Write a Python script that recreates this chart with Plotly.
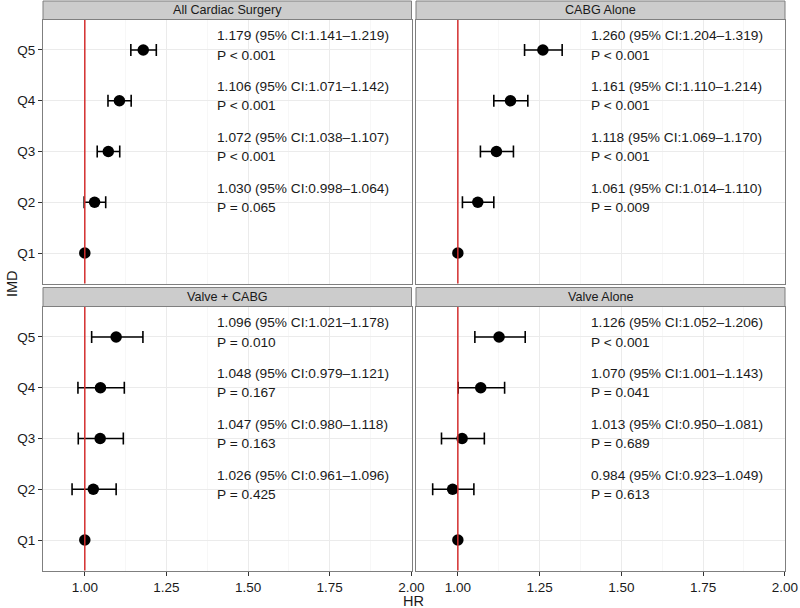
import plotly.graph_objects as go

# ---- data ----
panels = ["All Cardiac Surgery", "CABG Alone", "Valve + CABG", "Valve Alone"]
quintiles = ["Q1", "Q2", "Q3", "Q4", "Q5"]

hr_all = [1.000, 1.030, 1.072, 1.106, 1.179]
lo_all = [1.000, 0.998, 1.038, 1.071, 1.141]
hi_all = [1.000, 1.064, 1.107, 1.142, 1.219]
p_all = ["", "P = 0.065", "P < 0.001", "P < 0.001", "P < 0.001"]

hr_cabg = [1.000, 1.061, 1.118, 1.161, 1.260]
lo_cabg = [1.000, 1.014, 1.069, 1.110, 1.204]
hi_cabg = [1.000, 1.110, 1.170, 1.214, 1.319]
p_cabg = ["", "P = 0.009", "P < 0.001", "P < 0.001", "P < 0.001"]

hr_vc = [1.000, 1.026, 1.047, 1.048, 1.096]
lo_vc = [1.000, 0.961, 0.980, 0.979, 1.021]
hi_vc = [1.000, 1.096, 1.118, 1.121, 1.178]
p_vc = ["", "P = 0.425", "P = 0.163", "P = 0.167", "P = 0.010"]

hr_valve = [1.000, 0.984, 1.013, 1.070, 1.126]
lo_valve = [1.000, 0.923, 0.950, 1.001, 1.052]
hi_valve = [1.000, 1.049, 1.081, 1.143, 1.206]
p_valve = ["", "P = 0.613", "P = 0.689", "P = 0.041", "P < 0.001"]

x_ticks = [1.00, 1.25, 1.50, 1.75, 2.00]
x_ticktext = ["1.00", "1.25", "1.50", "1.75", "2.00"]
ref_hr = 1.0
label_x = 1.4

data = [
    (hr_all, lo_all, hi_all, p_all),
    (hr_cabg, lo_cabg, hi_cabg, p_cabg),
    (hr_vc, lo_vc, hi_vc, p_vc),
    (hr_valve, lo_valve, hi_valve, p_valve),
]

# ---- layout geometry (pixels) ----
W, H = 800, 608
def fx(px):
    return px / W
def fy(py):
    return 1 - py / H

col_x = [(43, 411.5), (416, 785)]
row_y = [(19.5, 283.5), (306.5, 570.5)]
strip_y = [(1, 19.5), (287.5, 306.5)]

FONT = "Liberation Sans, Arial, Helvetica, sans-serif"
TXT = "#1a1a1a"
GREY50 = "#7f7f7f"

fig = go.Figure()
shapes = []
annotations = []
layout_axes = {}

yvals = [1, 2, 3, 4, 5]

for i, (hr, lo, hi, pv) in enumerate(data):
    r, c = divmod(i, 2)
    n = i + 1
    xa = "x" if n == 1 else f"x{n}"
    ya = "y" if n == 1 else f"y{n}"
    xkey = "xaxis" if n == 1 else f"xaxis{n}"
    ykey = "yaxis" if n == 1 else f"yaxis{n}"

    # CI + points for Q2..Q5
    fig.add_trace(go.Scatter(
        x=hr[1:], y=yvals[1:], mode="markers",
        marker=dict(color="black", size=11.5),
        error_x=dict(type="data", symmetric=False,
                     array=[h - e for h, e in zip(hi[1:], hr[1:])],
                     arrayminus=[e - l for e, l in zip(hr[1:], lo[1:])],
                     color="black", thickness=1.6, width=6),
        xaxis=xa, yaxis=ya, showlegend=False, hoverinfo="skip"))
    # reference Q1 point
    fig.add_trace(go.Scatter(
        x=hr[:1], y=yvals[:1], mode="markers",
        marker=dict(color="black", size=11.5),
        xaxis=xa, yaxis=ya, showlegend=False, hoverinfo="skip"))

    bottom = r == 1
    left = c == 0
    layout_axes[xkey] = dict(
        domain=[fx(col_x[c][0]), fx(col_x[c][1])],
        anchor=ya, range=[0.872, 2.0005], automargin=False,
        tickvals=x_ticks, ticktext=x_ticktext,
        showticklabels=bottom, ticks="outside" if bottom else "",
        ticklen=4, tickcolor="#333333", tickwidth=1,
        tickfont=dict(family=FONT, size=13.5, color=TXT),
        showgrid=True, gridcolor="#ebebeb", gridwidth=1,
        minor=dict(tick0=1.0, dtick=0.125, showgrid=True,
                   gridcolor="#f7f7f7", gridwidth=1),
        showline=True, mirror=True, linecolor=GREY50, linewidth=1,
        zeroline=False, fixedrange=True,
    )
    layout_axes[ykey] = dict(
        domain=[fy(row_y[r][1]), fy(row_y[r][0])],
        anchor=xa, range=[0.4, 5.6], automargin=False,
        tickvals=yvals, ticktext=quintiles,
        showticklabels=left, ticks="outside" if left else "",
        ticklen=4, tickcolor="#333333", tickwidth=1,
        tickfont=dict(family=FONT, size=13.5, color=TXT),
        showgrid=True, gridcolor="#ebebeb", gridwidth=1,
        showline=True, mirror=True, linecolor=GREY50, linewidth=1,
        zeroline=False, fixedrange=True,
    )

    # red reference line
    shapes.append(dict(type="line", xref=xa, yref=f"{ya} domain",
                       x0=ref_hr, x1=ref_hr, y0=0, y1=1,
                       line=dict(color="#d42f2f", width=1.5), layer="above"))

    # strip
    shapes.append(dict(type="rect", xref="paper", yref="paper",
                       x0=fx(col_x[c][0]), x1=fx(col_x[c][1]),
                       y0=fy(strip_y[r][1]), y1=fy(strip_y[r][0]),
                       fillcolor="#cccccc", line=dict(color=GREY50, width=1),
                       layer="above"))
    annotations.append(dict(xref="paper", yref="paper",
                            x=fx((col_x[c][0] + col_x[c][1]) / 2),
                            y=fy((strip_y[r][0] + strip_y[r][1]) / 2),
                            text=panels[i], showarrow=False,
                            xanchor="center", yanchor="middle",
                            font=dict(family=FONT, size=12.6, color=TXT)))

    # labels
    for q in range(1, 5):
        line1 = f"{hr[q]:.3f} (95% CI:{lo[q]:.3f}\u2013{hi[q]:.3f})"
        annotations.append(dict(xref=xa, yref=ya, x=label_x, y=yvals[q] + 0.28,
                                text=line1, showarrow=False,
                                xanchor="left", yanchor="middle",
                                font=dict(family=FONT, size=13.7, color=TXT)))
        annotations.append(dict(xref=xa, yref=ya, x=label_x, y=yvals[q] - 0.1,
                                text=pv[q], showarrow=False,
                                xanchor="left", yanchor="middle",
                                font=dict(family=FONT, size=13.7, color=TXT)))

# axis titles
annotations.append(dict(xref="paper", yref="paper", x=fx(413.5), y=fy(601),
                        text="HR", showarrow=False, xanchor="center",
                        yanchor="middle",
                        font=dict(family=FONT, size=14.5, color=TXT)))
annotations.append(dict(xref="paper", yref="paper", x=fx(12), y=fy(284),
                        text="IMD", showarrow=False, textangle=-90,
                        xanchor="center", yanchor="middle",
                        font=dict(family=FONT, size=14.5, color=TXT)))

fig.update_layout(
    width=W, height=H, autosize=False,
    margin=dict(l=0, r=0, t=0, b=0, pad=0),
    paper_bgcolor="white", plot_bgcolor="white",
    shapes=shapes, annotations=annotations,
    **layout_axes,
)

post = (
    "document.documentElement.style.margin='0px';"
    "document.documentElement.style.overflow='hidden';"
    "document.body.style.margin='0px';"
    "document.body.style.padding='0px';"
    "document.body.style.overflow='hidden';"
)

fig.write_html("out.html",
               config={"displayModeBar": False},
               post_script=post)
